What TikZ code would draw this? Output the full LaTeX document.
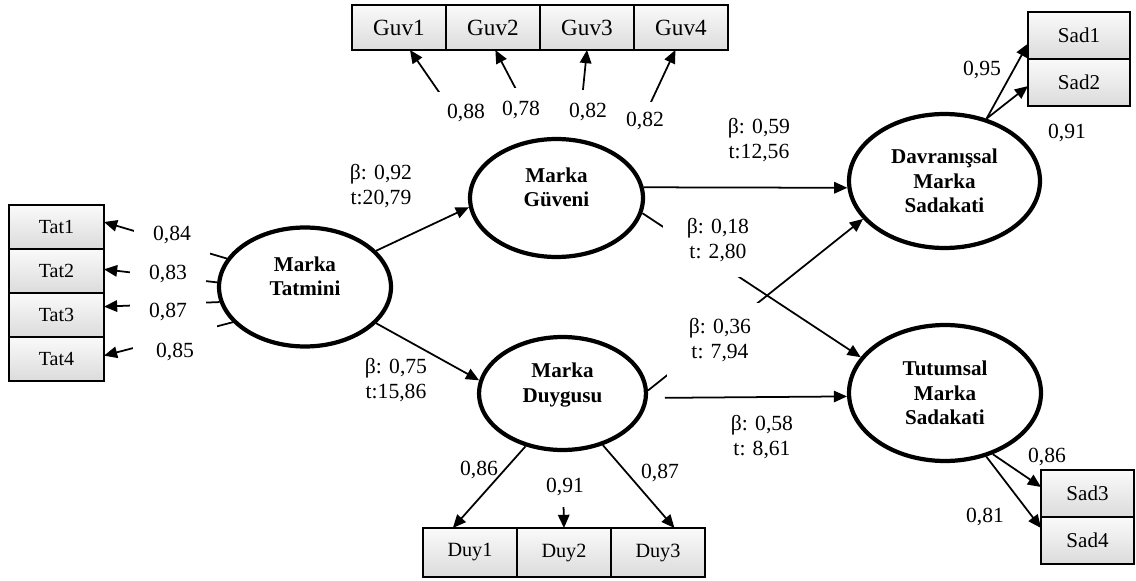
\documentclass[tikz,border=0pt]{standalone}
\usepackage{fontspec}
\setmainfont{Liberation Serif}
\usetikzlibrary{arrows.meta}
\usetikzlibrary{positioning,shapes.geometric}
\pgfdeclarelayer{bg}
\pgfsetlayers{bg,main}
\newcommand{\lift}[1]{\raisebox{1.8pt}[0pt][0pt]{\begin{tabular}{@{}c@{}}#1\end{tabular}}}
\tikzset{
	latent/.style={ellipse,draw,line width=2.4pt,fill=white,inner sep=0pt,align=center,font=\fontsize{12}{14}\selectfont\bfseries},
	ind/.style={rectangle,draw,line width=1.1pt,top color=gray!4,bottom color=gray!28,inner sep=0pt,outer sep=0pt,minimum width=1.88cm,minimum height=0.9cm,font=\fontsize{12}{14}\selectfont},
	coef/.style={inner sep=1pt,align=center},
	gap/.style={fill=white,inner sep=0pt,align=center},
	cover/.style={fill=white,inner sep=0pt,anchor=base}
}

\begin{document}
\begin{tikzpicture}[x=0.02cm,y=-0.02cm,font=\fontsize{12.3}{14.3}\selectfont]
		\useasboundingbox (0,0) rectangle (1136,581);

		\begin{scope}[every node/.style={latent}]
			\node[minimum width=3.44cm,minimum height=2.38cm] (tm) at (305,287) {\lift{Marka\\Tatmini}};
			\node[minimum width=3.46cm,minimum height=2.36cm] (gv) at (556.5,198) {\lift{Marka\\Güveni}};
			\node[minimum width=3.34cm,minimum height=2.26cm] (dg) at (562.5,393.5) {\lift{Marka\\Duygusu}};
			\node[minimum width=3.82cm,minimum height=2.68cm] (dv) at (944.5,181) {Davranışsal\\Marka\\Sadakati};
			\node[minimum width=3.84cm,minimum height=2.72cm] (tt) at (945,393) {Tutumsal\\Marka\\Sadakati};
		\end{scope}

		\begin{scope}[every node/.style={ind}]
			\node[minimum width=1.9cm,minimum height=0.88cm,font=\fontsize{11.4}{13}\selectfont] (tat1) at (56.5,227) {Tat1};
			\node[minimum width=1.9cm,minimum height=0.88cm,font=\fontsize{11.4}{13}\selectfont,below=0pt of tat1] (tat2) {Tat2};
			\node[minimum width=1.9cm,minimum height=0.88cm,font=\fontsize{11.4}{13}\selectfont,below=0pt of tat2] (tat3) {Tat3};
			\node[minimum width=1.9cm,minimum height=0.88cm,font=\fontsize{11.4}{13}\selectfont,below=0pt of tat3] (tat4) {Tat4};

			\node[font=\fontsize{13.2}{15}\selectfont] (guv1) at (399,27.5) {Guv1};
			\node[font=\fontsize{13.2}{15}\selectfont,right=0pt of guv1] (guv2) {Guv2};
			\node[font=\fontsize{13.2}{15}\selectfont,right=0pt of guv2] (guv3) {Guv3};
			\node[font=\fontsize{13.2}{15}\selectfont,right=0pt of guv3] (guv4) {Guv4};

			\node[minimum height=0.98cm,font=\fontsize{11.5}{13}\selectfont] (duy1) at (470,552.5) {Duy1};
			\node[minimum height=0.98cm,font=\fontsize{11.5}{13}\selectfont,right=0pt of duy1] (duy2) {Duy2};
			\node[minimum height=0.98cm,font=\fontsize{11.5}{13}\selectfont,right=0pt of duy2] (duy3) {Duy3};

			\node[minimum width=2.04cm,minimum height=0.94cm] (sad1) at (1079,35.5) {Sad1};
			\node[minimum width=2.04cm,minimum height=0.94cm,below=0pt of sad1] (sad2) {Sad2};
			\node[minimum width=1.86cm,minimum height=0.94cm] (sad3) at (1087.5,493.5) {Sad3};
			\node[minimum width=1.86cm,minimum height=0.94cm,below=0pt of sad3] (sad4) {Sad4};
		\end{scope}

		\begin{pgfonlayer}{bg}
		\begin{scope}[>={Triangle[length=7.5pt,width=6.5pt]},line width=1pt]
			\path[->] (tm.160) edge (tat1.6);
			\path[->] (tm.177) edge (tat2.2);
			\path[->] (tm.190) edge (tat3.10);
			\path[->] (tm.206) edge (tat4.4);

			\path[->] (gv.152) edge (guv1.-64);
			\path[->] (gv.104) edge (guv2.-84);
			\path[->] (gv.70) edge (guv3.south);
			\path[->] (gv.30) edge (guv4.-104);

			\path[->] (dg.235) edge (duy1.125);
			\path[->] (dg.south) edge (duy2.north);
			\path[->] (dg.-52) edge (duy3.56);

			\path[->] (dv.56) edge (sad1.189);
			\path[->] (dv.56) edge (sad2.184);
			\path[->] (tt.-52) edge (sad3.172);
			\path[->] (tt.-57) edge (sad4.165);

			\path[->] (tm.27) edge (gv.186);
			\path[->] (tm.-27) edge (dg.171);
			\path[->] (gv.7) edge (dv.184);
			\path[->] (gv.-10) edge (tt.157);
			\path[->] (dg.2) edge (dv.205);
			\path[->] (dg.-3) edge[shorten <=0.34cm] (tt.182);
		\end{scope}

		\node[coef] (b1) at (381,186) {β: 0,92\\t:20,79};
		\node[coef] (b2) at (396,380) {β: 0,75\\t:15,86};
		\node[coef] (b3) at (759,140) {β: 0,59\\t:12,56};
		\node[gap,minimum width=2.2cm,minimum height=1.48cm] (b4) at (718,240) {β: 0,18\\t: 2,80};
		\node[gap,minimum width=2.12cm,minimum height=1.48cm] (b5) at (720,340) {β: 0,36\\t: 7,94};
		\node[coef] (b6) at (762,437) {β: 0,58\\t: 8,61};

		\node[cover,minimum width=1.52cm,text height=0.32cm,text depth=0.32cm] (lt1) at (172,240) {0,84};
		\node[cover,minimum width=1.54cm,text height=0.38cm,text depth=0.22cm] (lt2) at (168,279) {0,83};
		\node[cover,minimum width=1.54cm,text height=0.46cm,text depth=0.16cm] (lt3) at (168,317) {0,87};
		\node[cover,minimum width=1.68cm,text height=0.7cm,text depth=0.18cm] (lt4) at (175,357) {0,85};

		\node[cover,minimum width=1.16cm,text height=0.54cm,text depth=1.02cm] (lg1) at (466,119) {0,88};
		\node[cover,minimum width=0.96cm,text height=0.54cm,text depth=0.7cm] (lg2) at (521,115) {0,78};
		\node[cover,minimum width=0.8cm,text height=0.54cm,text depth=0.66cm] (lg3) at (588,117) {0,82};
		\node[cover,minimum width=1.08cm,text height=0.5cm,text depth=0.9cm] (lg4) at (645,127) {0,82};

		\node[coef] (ld1) at (479,470) {0,86};
		\node[cover,minimum width=0.8cm,text height=0.94cm,text depth=0.3cm] (ld2) at (565,492) {0,91};
		\node[coef] (ld3) at (660,473) {0,87};

		\node[coef] (ls1) at (982,70) {0,95};
		\node[coef] (ls2) at (1067,133) {0,91};
		\node[coef] (ls3) at (1047,457) {0,86};
		\node[coef] (ls4) at (985,517) {0,81};
		\end{pgfonlayer}
	\end{tikzpicture}
\end{document}
